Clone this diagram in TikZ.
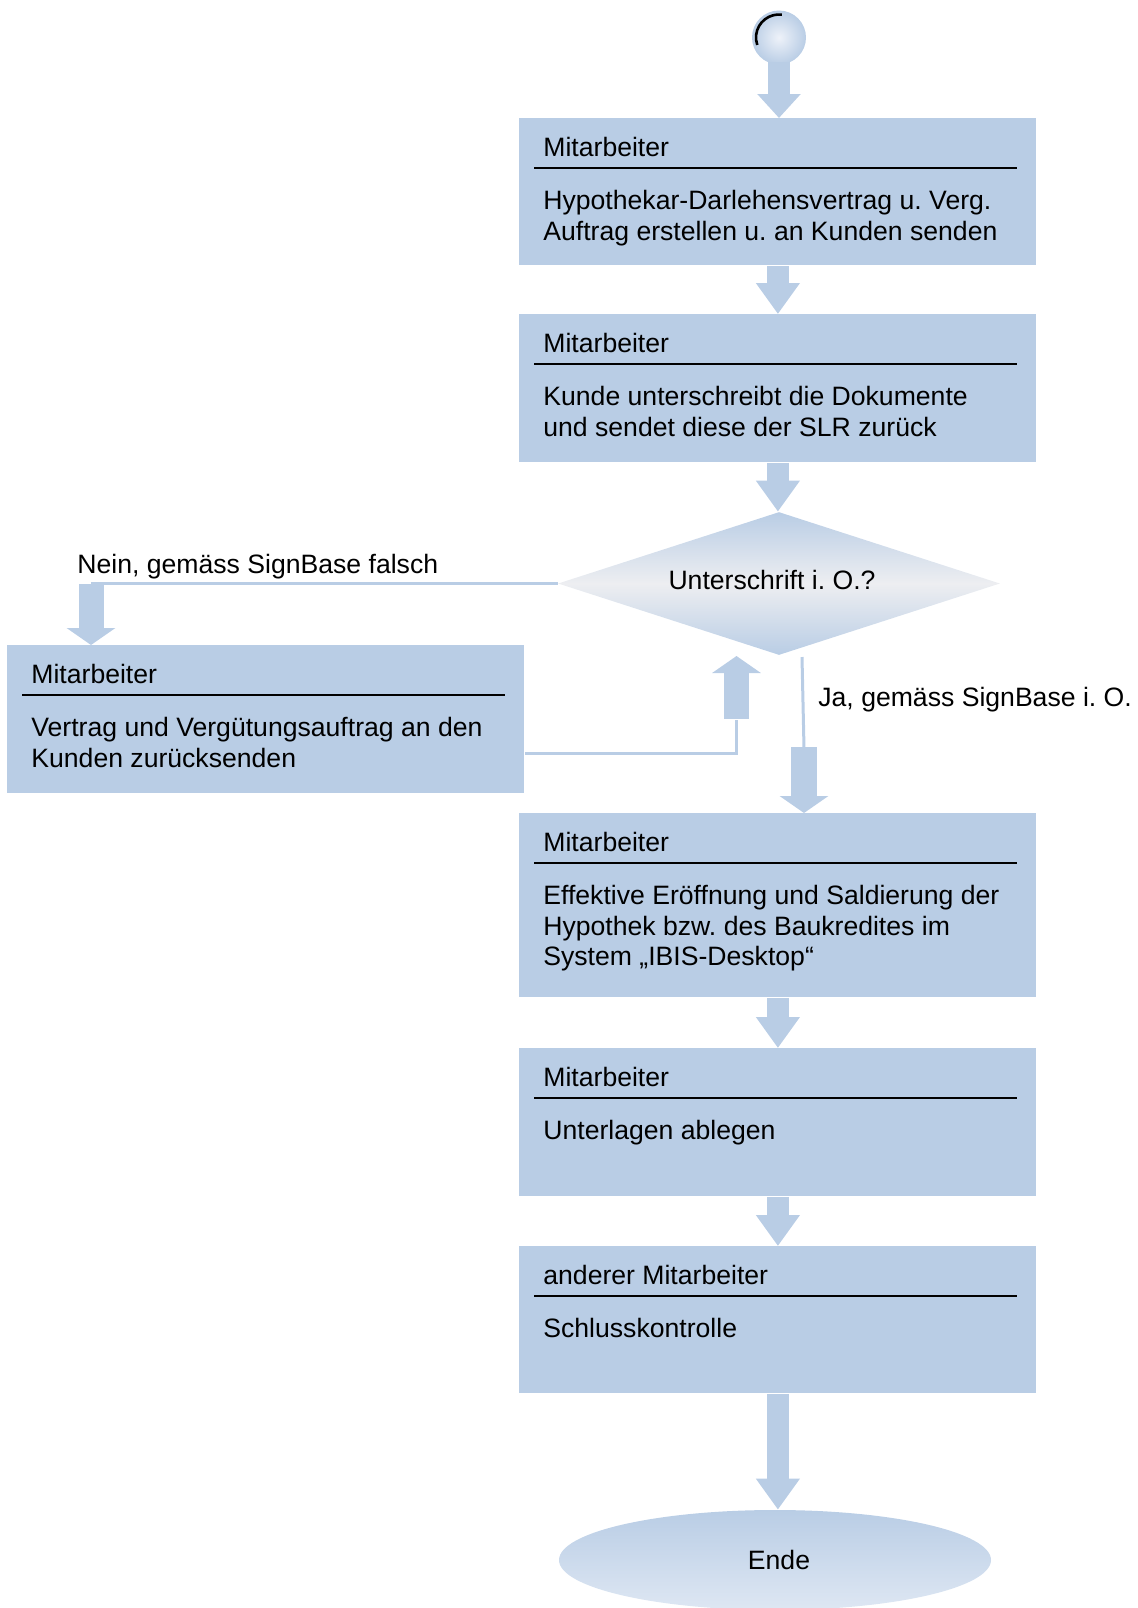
\documentclass[tikz,border=0pt]{standalone}
\usepackage{fontspec}
\setmainfont{Liberation Sans}
\usetikzlibrary{arrows.meta,shapes.geometric}
\definecolor{boxblue}{RGB}{185,205,229}
\definecolor{midgray}{RGB}{237,238,241}
\definecolor{lightblue}{RGB}{222,231,243}
\definecolor{ballcenter}{RGB}{238,242,249}
\frenchspacing
\newcommand\txtfont{\fontsize{13.3pt}{15.3pt}\selectfont\frenchspacing}
% #1 name, #2 top-left corner, #3 height, #4 header, #5 body
\newcommand\procbox[5]{%
  \node[box, minimum height=#3, anchor=north west] (#1) at #2 {};
  \node[hdr, anchor=base west] (#1-h) at ([xshift=12pt,yshift=-19.25pt]#1.north west) {#4};
  \draw[sepline] ([xshift=7.5pt,yshift=-25pt]#1.north west) -- ([xshift=-10pt,yshift=-25pt]#1.north east);
  \node[body, anchor=north west] (#1-b) at ([xshift=12pt,yshift=-35.5pt]#1.north west) {\rule{0pt}{10pt}#5};
}
\begin{document}
\begin{tikzpicture}[x=0.5pt, y=-0.5pt,
  box/.style={rectangle, fill=boxblue, draw=none, inner sep=0pt, minimum width=258.5pt},
  hdr/.style={inner sep=0pt, font=\txtfont},
  body/.style={inner sep=0pt, align=left, font=\txtfont},
  lbl/.style={inner sep=0pt, font=\txtfont},
  sepline/.style={black, line width=1pt},
  flow/.style={boxblue, line width=11pt, -{Triangle[width=21pt,length=15.5pt]}},
  sideflow/.style={boxblue, line width=12.5pt, -{Triangle[width=24pt,length=8.5pt]}},
  thinflow/.style={boxblue, line width=1.5pt}]
\useasboundingbox (0,0) rectangle (1137,1608);

% start
\node[circle, minimum size=27pt, inner sep=0pt, inner color=ballcenter, outer color=boxblue] (start) at (779,37.5) {};
\draw[black, line width=1.3pt] ([shift={(83:11.5pt)}]start.center) arc[start angle=83, end angle=199, radius=11.5pt];

% boxes
\procbox{b1}{(519,118)}{73.5pt}{Mitarbeiter}{Hypothekar-Darlehensvertrag u. Verg.\\Auftrag erstellen u. an Kunden senden}
\procbox{b2}{(519,314)}{74pt}{Mitarbeiter}{Kunde unterschreibt die Dokumente\\und sendet diese der SLR zurück}
\procbox{b3}{(7,645)}{74pt}{Mitarbeiter}{Vertrag und Vergütungsauftrag an den\\Kunden zurücksenden}
\procbox{b4}{(519,813)}{92pt}{Mitarbeiter}{Effektive Eröffnung und Saldierung der\\Hypothek bzw. des Baukredites im\\System „IBIS-Desktop“}
\procbox{b5}{(519,1048)}{74pt}{Mitarbeiter}{Unterlagen ablegen}
\procbox{b6}{(519,1246)}{73.5pt}{anderer Mitarbeiter}{Schlusskontrolle}

% decision
\node[diamond, minimum width=221pt, minimum height=71.5pt, inner sep=0pt,
      top color=boxblue, bottom color=boxblue, middle color=midgray] (dia) at (779,583.5) {};
\node[lbl, anchor=base] (dia-t) at (772,589) {Unterschrift i. O.?};

% end
\node[ellipse, minimum width=216pt, minimum height=50pt, inner sep=0pt,
      top color=boxblue, bottom color=lightblue] (ende) at (775,1560) {};
\node[lbl, anchor=base] (ende-t) at (779,1569) {Ende};

% labels
\node[lbl, anchor=base west] (nein) at (77,573) {Nein, gemäss SignBase falsch};
\node[lbl, anchor=base west] (ja) at (818,706) {Ja, gemäss SignBase i. O.};

% main flow
\draw[flow, -{Triangle[width=21pt,length=12pt]}] ([yshift=1.5pt]start.south) -- (start.south |- b1.north);
\draw[flow] (b1.south) -- (b2.north);
\draw[flow] (b2.south) -- (b2.south |- dia.north);
\draw[flow] (b4.south) -- (b5.north);
\draw[flow] (b5.south) -- (b6.north);
\draw[flow] (b6.south) -- (b6.south |- ende.north);

% Nein branch
\coordinate (nb) at (91,584);
\draw[thinflow] (dia.west) -- (dia.west -| nb);
\draw[sideflow] (nb) -- (nb |- b3.north);

% return branch
\coordinate (rc) at (736.5,753);
\coordinate (rb) at (736.5,720);
\coordinate (rt) at (736.5,656);
\draw[thinflow] (b3.east |- rc) -- (rc) -- (rb);
\draw[sideflow] ([yshift=0.5pt]rb) -- (rt);

% Ja branch
\coordinate (js) at (802,657);
\coordinate (jb) at (804,748);
\draw[thinflow] (js) -- (jb);
\draw[sideflow, line width=13pt] ([yshift=0.5pt]jb) -- (jb |- b4.north);
\end{tikzpicture}
\end{document}
